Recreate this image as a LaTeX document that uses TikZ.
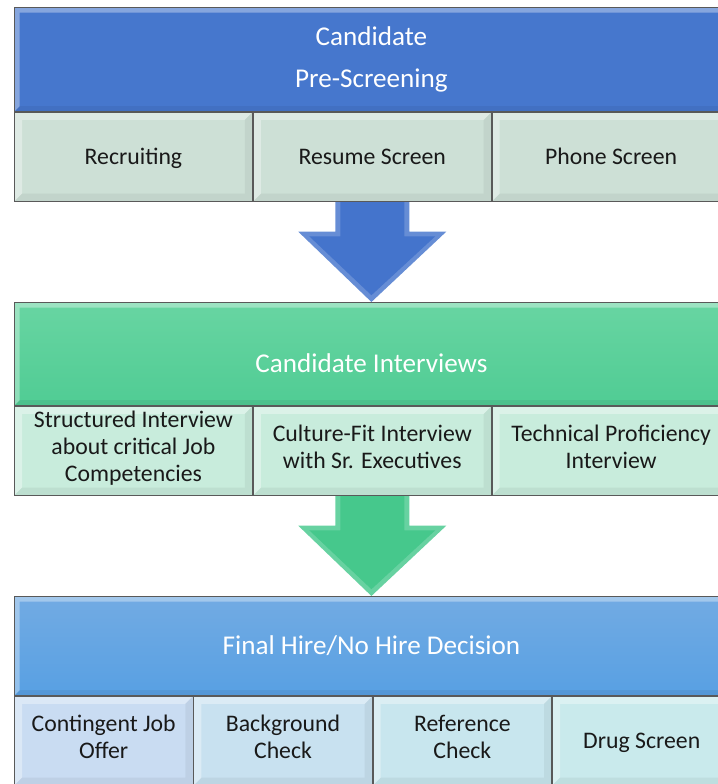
\documentclass[tikz,border=0pt]{standalone}
\usepackage{fontspec}
\setmainfont{Carlito}
\usetikzlibrary{positioning, calc, backgrounds}

\definecolor{hdblue}{RGB}{70,119,205}
\definecolor{hdgreenT}{RGB}{104,213,162}
\definecolor{hdgreenB}{RGB}{80,204,148}
\definecolor{hdskyT}{RGB}{114,171,227}
\definecolor{hdskyB}{RGB}{88,160,227}
\definecolor{subgrey}{RGB}{205,224,214}
\definecolor{submint}{RGB}{200,236,220}
\definecolor{subA}{RGB}{201,220,242}
\definecolor{subB}{RGB}{200,225,240}
\definecolor{subC}{RGB}{200,230,238}
\definecolor{subD}{RGB}{201,234,236}
\definecolor{arrblue}{RGB}{68,116,204}
\definecolor{arrgreen}{RGB}{70,200,140}

\newcommand{\topstrut}{\rule{0pt}{16.2pt}}

% bevelled edge: light on top/left, shaded on bottom/right
\tikzset{
  bevel/.style={path picture={
      \coordinate (pp1) at (path picture bounding box.north west);
      \coordinate (pp2) at (path picture bounding box.south east);
      \fill[white, opacity=0.35] (pp1) -- (pp1 -| pp2) -- ++(-#1,-#1)
        -- ($(pp1)+(#1,-#1)$) -- ($(pp1 |- pp2)+(#1,#1)$) -- (pp1 |- pp2) -- cycle;
      \fill[black, opacity=0.05] (pp2) -- (pp1 -| pp2) -- ++(-#1,-#1)
        -- ($(pp2)+(-#1,#1)$) -- ($(pp1 |- pp2)+(#1,#1)$) -- (pp1 |- pp2) -- cycle;
    }},
}

\begin{document}
\begin{tikzpicture}[
    hd/.style={draw=gray!70!black, line width=0.6pt, text=white, inner sep=0pt,
        minimum width=17.85cm, align=center, bevel=0.13,
        font=\fontsize{19.3}{30}\selectfont},
    sub/.style={draw=gray!70!black, line width=0.6pt, text=black!90, inner sep=0pt,
        minimum height=2.225cm, align=center, bevel=0.19,
        font=\fontsize{16.9}{19.2}\selectfont,
        execute at begin node=\topstrut, execute at end node=\strut},
    w3/.style={sub, minimum width=5.95cm},
    w4/.style={sub, minimum width=4.4625cm},
  ]

  \useasboundingbox (0,0) rectangle (17.925,-19.6);

  % ---- Stage 1: pre-screening ----
  \node[hd, fill=hdblue, minimum height=2.6cm, anchor=north west] (H1) at (0.35,-0.175)
    {Candidate\\Pre-Screening};
  \node[w3, fill=subgrey, anchor=north west] (S1a) at (H1.south west) {Recruiting};
  \node[w3, fill=subgrey, right=0pt of S1a] (S1b) {Resume Screen};
  \node[w3, fill=subgrey, right=0pt of S1b] (S1c) {Phone Screen};

  % ---- Stage 2: interviews ----
  \node[hd, top color=hdgreenT, bottom color=hdgreenB, minimum height=2.575cm,
    text height=0.93cm, text depth=0pt, anchor=north west] (H2) at (0.35,-7.55)
    {Candidate Interviews};
  \node[w3, fill=submint, anchor=north west] (S2a) at (H2.south west)
    {Structured Interview\\about critical Job\\Competencies};
  \node[w3, fill=submint, right=0pt of S2a] (S2b) {Culture-Fit Interview\\with Sr. Executives};
  \node[w3, fill=submint, right=0pt of S2b] (S2c) {Technical Proficiency\\Interview};

  % ---- Stage 3: decision ----
  \node[hd, top color=hdskyT, bottom color=hdskyB, minimum height=2.475cm,
    anchor=north west] (H3) at (0.35,-14.9) {Final Hire/No Hire Decision};
  \node[w4, fill=subA, anchor=north west] (S3a) at (H3.south west) {Contingent Job\\Offer};
  \node[w4, fill=subB, right=0pt of S3a] (S3b) {Background\\Check};
  \node[w4, fill=subC, right=0pt of S3b] (S3c) {Reference\\Check};
  \node[w4, fill=subD, right=0pt of S3c] (S3d) {Drug Screen};

  % ---- Block arrows between stages (behind the boxes) ----
  \begin{scope}[on background layer]
    \foreach \from/\to/\col in {S1b/H2/arrblue, S2b/H3/arrgreen}{
        \fill[\col!82!white]
        ($(\from.south)+(-0.925,0.1)$) -- ($(\from.south)+(-0.925,-0.75)$)
        -- ($(\from.south)+(-1.85,-0.75)$) -- (\to.north)
        -- ($(\from.south)+(1.85,-0.75)$) -- ($(\from.south)+(0.925,-0.75)$)
        -- ($(\from.south)+(0.925,0.1)$) -- cycle;
        \fill[\col]
        ($(\from.south)+(-0.8,0.1)$) -- ($(\from.south)+(-0.8,-0.87)$)
        -- ($(\from.south)+(-1.57,-0.87)$) -- ($(\to.north)+(0,0.17)$)
        -- ($(\from.south)+(1.57,-0.87)$) -- ($(\from.south)+(0.8,-0.87)$)
        -- ($(\from.south)+(0.8,0.1)$) -- cycle;
      }
  \end{scope}

\end{tikzpicture}
\end{document}
